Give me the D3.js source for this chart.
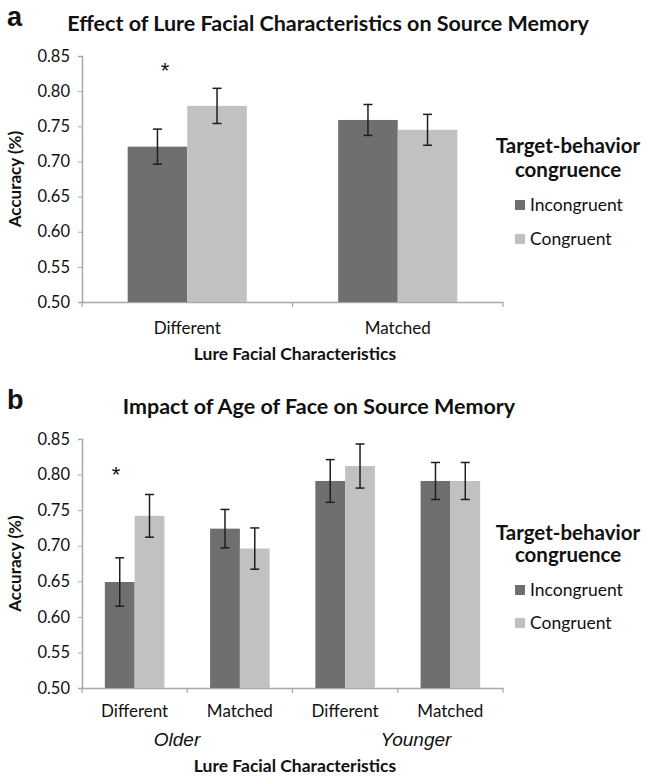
<!DOCTYPE html>
<html>
<head>
<meta charset="utf-8">
<script src="https://cdn.jsdelivr.net/npm/d3@7"></script>
<style>
  body { margin: 0; background: #fff; }
  text { font-family: Lato, "Open Sans", sans-serif; fill: #111; }
</style>
</head>
<body>
<div id="chart"></div>
<script>
// data
var series = ["Incongruent", "Congruent"];
var seriesColors = ["#6f6f6f", "#c1c1c1"];
var yTicks = [0.50, 0.55, 0.60, 0.65, 0.70, 0.75, 0.80, 0.85];

var catsA = ["Different", "Matched"];
var incongA = [0.721, 0.759];
var congA = [0.779, 0.745];
var incongErrA = [0.025, 0.022];
var congErrA = [0.025, 0.022];

var catsB = ["Different", "Matched", "Different", "Matched"];
var ageB = ["Older", "Older", "Younger", "Younger"];
var incongB = [0.649, 0.724, 0.791, 0.791];
var congB = [0.742, 0.696, 0.812, 0.791];
var incongErrB = [0.034, 0.027, 0.030, 0.026];
var congErrB = [0.030, 0.029, 0.031, 0.026];

var svg = d3.select("#chart")
    .append("svg")
    .attr("width", 646)
    .attr("height", 777);

function drawPanel(opt) {
    var left = 82, right = 503;
    var g = svg.append("g");

    var keys = opt.cats.map(function(c, i) { return i; });
    var x = d3.scaleBand().domain(keys).range([left, right]).padding(0);
    var bw = x.bandwidth();
    var x1 = d3.scaleBand().domain(series).range([bw * 0.217, bw * 0.783]).padding(0);
    var y = d3.scaleLinear().domain([0.5, 0.85]).range([opt.bottom, opt.top]);

    // panel letter + title
    g.append("text")
        .attr("x", 7).attr("y", opt.top - 30)
        .style("font-family", "'Liberation Sans', Arial, sans-serif")
        .style("font-weight", "bold").style("font-size", "27px")
        .text(opt.letter);
    g.append("text")
        .attr("x", opt.titleX).attr("y", opt.top - 25)
        .attr("text-anchor", "middle")
        .style("font-weight", "bold").style("font-size", "21.5px")
        .text(opt.title);

    // y axis
    var yAxis = g.append("g")
        .attr("transform", "translate(" + left + ",0)")
        .call(d3.axisLeft(y).tickValues(yTicks).tickSize(4).tickPadding(8)
            .tickFormat(d3.format(".2f")));
    yAxis.selectAll("text").style("font-size", "16.5px").attr("fill", "#111");
    yAxis.selectAll("line").attr("stroke", "#a8a8a8");
    yAxis.select(".domain").attr("stroke", "#a8a8a8").attr("stroke-width", 1.5);

    // x axis: labels via axis, boundary ticks from the band scale
    var xAxis = g.append("g")
        .attr("transform", "translate(0," + opt.bottom + ")")
        .call(d3.axisBottom(x).tickSize(0).tickPadding(opt.labelPad)
            .tickFormat(function(i) { return opt.cats[i]; }));
    xAxis.select(".domain").attr("stroke", "#a8a8a8").attr("stroke-width", 1.5);
    xAxis.selectAll("text").style("font-size", "17px").attr("fill", "#111");
    var bounds = keys.map(function(k) { return x(k); }).concat([right]);
    g.selectAll(".xtick").data(bounds).enter().append("line")
        .attr("x1", function(d) { return d; }).attr("x2", function(d) { return d; })
        .attr("y1", opt.bottom).attr("y2", opt.bottom + 5)
        .attr("stroke", "#a8a8a8").attr("stroke-width", 1.2);

    // bars
    var rows = [];
    keys.forEach(function(k) {
        rows.push({k: k, s: series[0], v: opt.incong[k], e: opt.incongErr[k], c: seriesColors[0]});
        rows.push({k: k, s: series[1], v: opt.cong[k], e: opt.congErr[k], c: seriesColors[1]});
    });
    g.selectAll(".bar").data(rows).enter().append("rect")
        .attr("x", function(d) { return x(d.k) + x1(d.s); })
        .attr("y", function(d) { return y(d.v); })
        .attr("width", x1.bandwidth())
        .attr("height", function(d) { return opt.bottom - y(d.v); })
        .attr("fill", function(d) { return d.c; });

    // error bars
    var cx = function(d) { return x(d.k) + x1(d.s) + x1.bandwidth() / 2; };
    var eb = g.selectAll(".err").data(rows).enter().append("g")
        .attr("stroke", "#1e1e1e").attr("stroke-width", 1.5);
    eb.append("line")
        .attr("x1", cx).attr("x2", cx)
        .attr("y1", function(d) { return y(d.v + d.e); })
        .attr("y2", function(d) { return y(d.v - d.e); });
    eb.append("line")
        .attr("x1", function(d) { return cx(d) - 4.5; }).attr("x2", function(d) { return cx(d) + 4.5; })
        .attr("y1", function(d) { return y(d.v + d.e); }).attr("y2", function(d) { return y(d.v + d.e); });
    eb.append("line")
        .attr("x1", function(d) { return cx(d) - 4.5; }).attr("x2", function(d) { return cx(d) + 4.5; })
        .attr("y1", function(d) { return y(d.v - d.e); }).attr("y2", function(d) { return y(d.v - d.e); });

    // significance star
    g.append("text")
        .attr("x", opt.starX).attr("y", opt.starY)
        .attr("text-anchor", "middle")
        .style("font-family", "'Liberation Sans', Arial, sans-serif")
        .style("font-size", "22px")
        .attr("fill", "#000")
        .text("*");

    // y title
    g.append("text")
        .attr("transform", "translate(21," + ((opt.top + opt.bottom) / 2) + ") rotate(-90)")
        .attr("text-anchor", "middle")
        .style("font-weight", "bold").style("font-size", "17px")
        .text("Accuracy (%)");

    // x title
    g.append("text")
        .attr("x", 295).attr("y", opt.xTitleY)
        .attr("text-anchor", "middle")
        .style("font-weight", "bold").style("font-size", "17.5px")
        .text("Lure Facial Characteristics");

    // legend
    var lg = g.append("g").attr("transform", "translate(0," + opt.top + ")");
    lg.append("text").attr("x", 568).attr("y", opt.leg[0])
        .attr("text-anchor", "middle")
        .style("font-weight", "bold").style("font-size", "20.5px")
        .text("Target-behavior");
    lg.append("text").attr("x", 568).attr("y", opt.leg[1])
        .attr("text-anchor", "middle")
        .style("font-weight", "bold").style("font-size", "20.5px")
        .text("congruence");
    series.forEach(function(s, i) {
        var yy = opt.leg[2 + i];
        lg.append("rect").attr("x", 515).attr("y", yy - 11)
            .attr("width", 10).attr("height", 10)
            .attr("fill", seriesColors[i]);
        lg.append("text").attr("x", 530).attr("y", yy)
            .style("font-size", "17.5px")
            .text(s);
    });

    return {x: x, g: g};
}

drawPanel({
    letter: "a", title: "Effect of Lure Facial Characteristics on Source Memory", titleX: 328,
    top: 56, bottom: 302, cats: catsA,
    incong: incongA, cong: congA, incongErr: incongErrA, congErr: congErrA,
    labelPad: 20, xTitleY: 360, starX: 165, starY: 78,
    leg: [97, 121, 155, 189]
});

var pb = drawPanel({
    letter: "b", title: "Impact of Age of Face on Source Memory", titleX: 319,
    top: 439, bottom: 688, cats: catsB,
    incong: incongB, cong: congB, incongErr: incongErrB, congErr: congErrB,
    labelPad: 17, xTitleY: 772, starX: 116, starY: 482,
    leg: [101, 123, 157, 190]
});

// age group labels under panel b
var ageGroups = ["Older", "Younger"];
var ageX = [177, 416];
ageGroups.forEach(function(a, i) {
    pb.g.append("text")
        .attr("x", ageX[i]).attr("y", 746)
        .attr("text-anchor", "middle")
        .style("font-family", "'Liberation Sans', Arial, sans-serif")
        .style("font-style", "italic").style("font-size", "19px")
        .text(a);
});
</script>
</body>
</html>
